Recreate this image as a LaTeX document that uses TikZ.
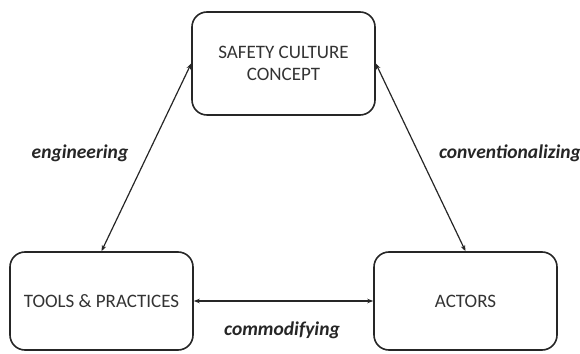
\documentclass[tikz,border=0pt]{standalone}
\usepackage{fontspec}
\setmainfont{Carlito}
\usetikzlibrary{arrows.meta}
\begin{document}
\begin{tikzpicture}[x=1pt,y=1pt,
  box/.style={draw=black!85, line width=1.6pt, rounded corners=15pt, minimum width=183pt, align=center, font=\fontsize{19}{22}\selectfont, text=black!80},
  conn/.style={{Stealth[length=6pt,width=4.5pt]}-{Stealth[length=6pt,width=4.5pt]}, line width=1.2pt, black!85},
  lab/.style={font=\fontsize{19.5}{22}\selectfont\bfseries\itshape, text=black!85}]
\useasboundingbox (0,0) rectangle (580,353);
\node[box, minimum height=103pt] (top) at (283.5,289.5) {SAFETY CULTURE\\CONCEPT};
\node[box, minimum height=98pt] (tl) at (101.5,52) {TOOLS \& PRACTICES};
\node[box, minimum height=98pt] (tr) at (465.5,52) {ACTORS};
\draw[conn] (top.west) -- (tl.north);
\draw[conn] (top.east) -- (tr.north);
\draw[conn] (tl.east) -- (tr.west);
\node[lab] (l1) at (80,200) {engineering};
\node[lab] (l2) at (510,200) {conventionalizing};
\node[lab] (l3) at (282,23) {commodifying};
\end{tikzpicture}
\end{document}
